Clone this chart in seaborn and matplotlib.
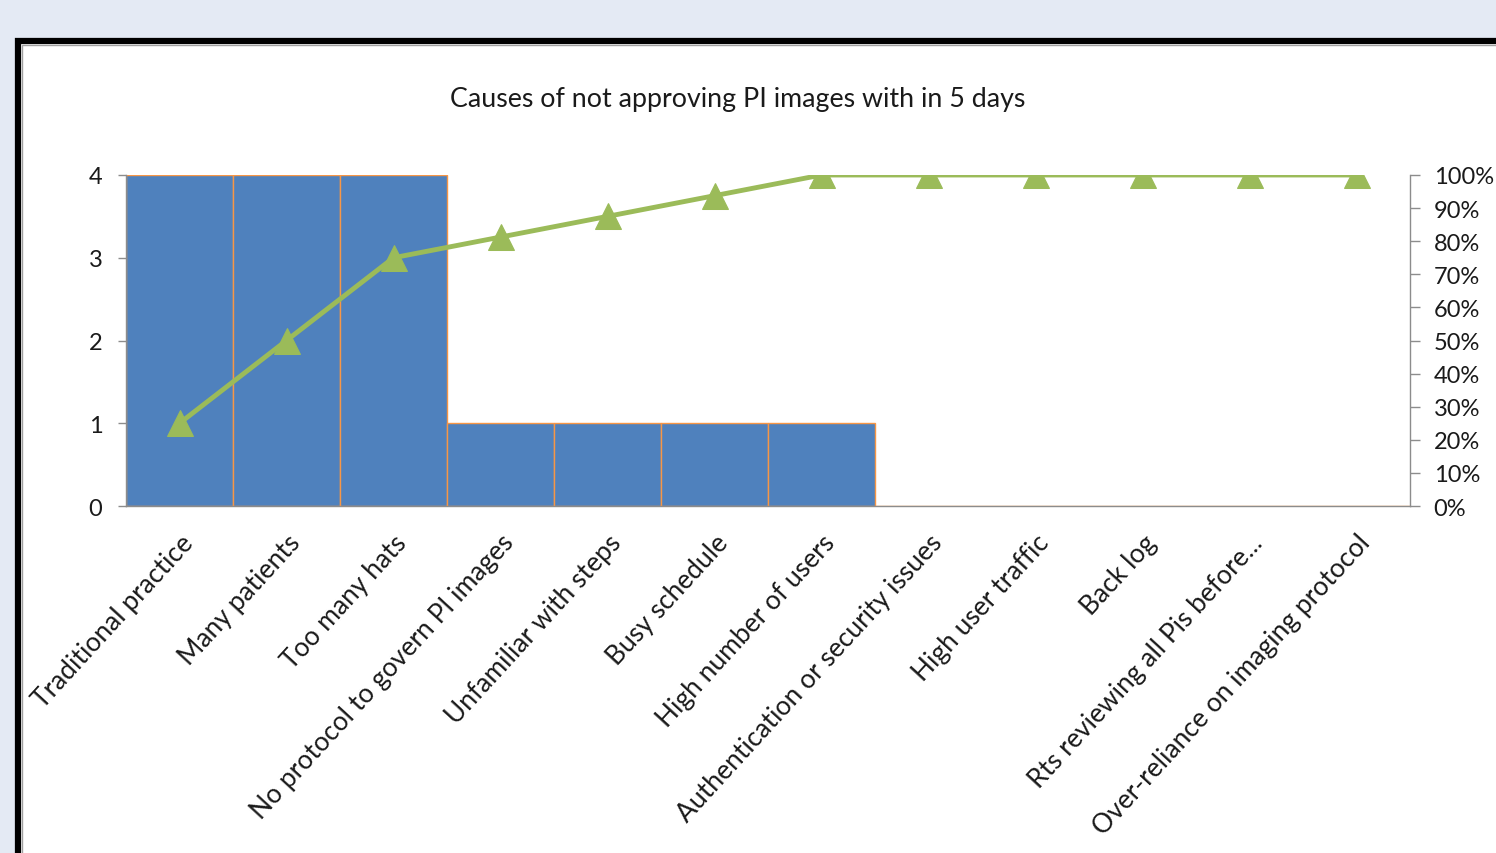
import matplotlib
matplotlib.use("Agg")
import matplotlib.pyplot as plt
from matplotlib.patches import Rectangle
import seaborn as sns
import numpy as np
import pandas as pd

categories = ["Traditional practice", "Many patients", "Too many hats",
              "No protocol to govern PI images", "Unfamiliar with steps",
              "Busy schedule", "High number of users",
              "Authentication or security issues", "High user traffic",
              "Back log", "Rts reviewing all Pis before...",
              "Over-reliance on imaging protocol"]
counts = [4, 4, 4, 1, 1, 1, 1, 0, 0, 0, 0, 0]
cum_pct = [25, 50, 75, 81.25, 87.5, 93.75, 100, 100, 100, 100, 100, 100]
title = "Causes of not approving PI images with in 5 days"

sns.set_theme(style="white")
plt.rcParams['font.family'] = ['Lato', 'DejaVu Sans']

BLUE = "#4F81BD"
ORANGE = "#F79646"
GREEN = "#9BBB59"
AXC = "#8C8C8C"
TXT = "#1a1a1a"

fig = plt.figure(figsize=(14.96, 8.54), dpi=100)
fig.patch.set_facecolor("#E4EAF4")

# white chart panel with black border
r1 = Rectangle((18/1496, -0.2), 1.2, (854-42)/854 + 0.2,
               transform=fig.transFigure, facecolor="white",
               edgecolor="black", linewidth=4.5, zorder=-10)
r2 = Rectangle((22/1496, -0.2), 1.2, (854-46)/854 + 0.2,
               transform=fig.transFigure, facecolor="none",
               edgecolor="#A0A0A0", linewidth=1.0, zorder=-9)
fig.add_artist(r1)
fig.add_artist(r2)

ax = fig.add_axes([126/1496, 1-507/854, (1410-126)/1496, (507-176)/854])
ax.set_facecolor("none")
df = pd.DataFrame({"cause": categories, "count": counts})
sns.barplot(data=df, x="cause", y="count", ax=ax, color=BLUE, width=1.0,
            edgecolor=ORANGE, linewidth=1.0, saturation=1)
ax.set_xlim(-0.5, len(categories) - 0.5)
ax.set_ylim(0, 4)
ax.set_yticks([0, 1, 2, 3, 4])
ax.set_xlabel("")
ax.set_ylabel("")
for s in ["top", "right"]:
    ax.spines[s].set_visible(False)
for s in ["left", "bottom"]:
    ax.spines[s].set_color(AXC)
    ax.spines[s].set_linewidth(1.0)
ax.set_xticks(np.arange(len(categories)))
ax.set_xticklabels(categories, rotation=47.5, ha="right", rotation_mode="anchor",
                   fontsize=19, color=TXT)
ax.set_xticks(np.arange(len(categories) + 1) - 0.5, minor=True)
ax.tick_params(axis="x", which="major", length=0, pad=17)
ax.tick_params(axis="x", which="minor", length=7, color=AXC, width=1)
ax.tick_params(axis="y", length=6, color=AXC, width=1, labelsize=17,
               labelcolor=TXT, pad=11, left=True)

ax2 = ax.twinx()
sns.lineplot(x=np.arange(len(categories)), y=cum_pct, ax=ax2, color=GREEN,
             linewidth=3.5, marker="^", markersize=19, markeredgecolor=GREEN,
             markerfacecolor=GREEN)
ax2.set_ylim(0, 100)
ax2.set_yticks(np.arange(0, 101, 10))
ax2.set_yticklabels([f"{v}%" for v in range(0, 101, 10)])
ax2.set_ylabel("")
for s in ["top", "left", "bottom"]:
    ax2.spines[s].set_visible(False)
ax2.spines["right"].set_color(AXC)
ax2.spines["right"].set_linewidth(1.0)
ax2.tick_params(axis="y", length=7, color=AXC, width=1, labelsize=17,
                labelcolor=TXT, pad=10, right=True)
ax2.set_xlim(-0.5, len(categories) - 0.5)

fig.text(738/1496, 1-99/854, title, ha="center", va="center", fontsize=19.3,
         color=TXT)

fig.savefig("out.png", dpi=100, facecolor=fig.get_facecolor())
